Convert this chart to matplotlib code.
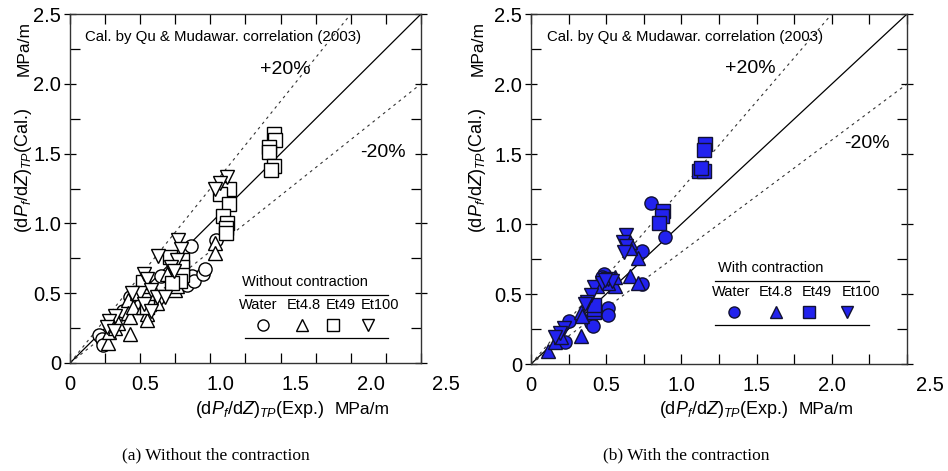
import numpy as np
import matplotlib
matplotlib.use("Agg")
import matplotlib.pyplot as plt

plt.rcParams['font.family'] = ['Liberation Sans', 'DejaVu Sans']
plt.rcParams['mathtext.fontset'] = 'custom'
plt.rcParams['mathtext.rm'] = 'Liberation Sans'
plt.rcParams['mathtext.it'] = 'Liberation Sans:italic'

# (a) without contraction
water_a_x = [0.21, 0.23, 0.235, 0.38, 0.43, 0.62, 0.57, 0.65, 0.78, 0.80, 0.83, 0.87, 0.88, 0.86, 0.95, 0.96, 1.04]
water_a_y = [0.20, 0.17, 0.13, 0.37, 0.47, 0.46, 0.52, 0.62, 0.69, 0.64, 0.56, 0.62, 0.59, 0.84, 0.64, 0.67, 0.88]
et48_a_x = [0.27, 0.28, 0.32, 0.34, 0.41, 0.41, 0.43, 0.43, 0.45, 0.48, 0.52, 0.55, 0.55, 0.56, 0.62, 0.69, 0.75, 0.76, 1.03, 1.03]
et48_a_y = [0.14, 0.22, 0.25, 0.29, 0.45, 0.36, 0.33, 0.21, 0.40, 0.50, 0.40, 0.35, 0.31, 0.42, 0.43, 0.64, 0.52, 0.55, 0.86, 0.79]
et49_a_x = [1.45, 1.46, 1.42, 1.42, 1.45, 1.43, 1.13, 1.07, 1.13, 1.09, 1.12, 1.11, 1.11, 0.71, 0.80, 0.80, 0.80, 0.78, 0.73, 0.52, 0.55, 0.55]
et49_a_y = [1.64, 1.60, 1.55, 1.51, 1.41, 1.38, 1.25, 1.21, 1.14, 1.05, 1.00, 0.97, 0.93, 0.76, 0.74, 0.69, 0.63, 0.59, 0.57, 0.58, 0.45, 0.40]
et100_a_x = [1.12, 1.07, 1.03, 0.63, 0.77, 0.79, 0.76, 0.72, 0.74, 0.53, 0.55, 0.50, 0.58, 0.62, 0.32, 0.28, 0.26, 0.31, 0.44, 0.53, 0.58, 0.68]
et100_a_y = [1.33, 1.29, 1.25, 0.77, 0.88, 0.82, 0.74, 0.69, 0.66, 0.64, 0.60, 0.50, 0.52, 0.47, 0.34, 0.30, 0.26, 0.23, 0.50, 0.42, 0.37, 0.47]

# (b) with contraction
water_b_x = [0.80, 0.89, 0.74, 0.74, 0.485, 0.51, 0.51, 0.40, 0.41, 0.25, 0.226, 0.47]
water_b_y = [1.15, 0.905, 0.81, 0.57, 0.64, 0.40, 0.35, 0.295, 0.27, 0.31, 0.155, 0.62]
et48_b_x = [0.115, 0.16, 0.33, 0.33, 0.34, 0.66, 0.71, 0.71, 0.655, 0.66, 0.56, 0.56, 0.20, 0.51, 0.44]
et48_b_y = [0.095, 0.16, 0.20, 0.37, 0.345, 0.63, 0.58, 0.755, 0.87, 0.83, 0.56, 0.62, 0.19, 0.58, 0.56]
et49_b_x = [1.157, 1.15, 1.12, 1.15, 1.13, 0.88, 0.87, 0.85, 0.42, 0.42, 0.42]
et49_b_y = [1.57, 1.53, 1.38, 1.38, 1.40, 1.09, 1.06, 1.01, 0.37, 0.39, 0.42]
et100_b_x = [0.63, 0.61, 0.63, 0.62, 0.51, 0.54, 0.42, 0.40, 0.37, 0.36, 0.22, 0.19, 0.16, 0.47, 0.49]
et100_b_y = [0.92, 0.87, 0.84, 0.80, 0.61, 0.59, 0.55, 0.49, 0.445, 0.43, 0.255, 0.22, 0.19, 0.58, 0.60]

fluids = ["Water", "Et4.8", "Et49", "Et100"]
markers = ["o", "^", "s", "v"]
x_tick_labels = ["0", "0.5", "1.0", "1.5", "2.0", "2.5"]
y_tick_labels = ["0", "0.5", "1.0", "1.5", "2.0", "2.5"]

fig = plt.figure(figsize=(9.48, 4.71), dpi=100)
ax_a = fig.add_axes([70/948, 108/471, 351/948, 349/471])
ax_b = fig.add_axes([531/948, 107/471, 376/948, 350/471])

ylab = r'(d$P_f$/d$Z$)$_{TP}$(Cal.)'
xlab = r'(d$P_f$/d$Z$)$_{TP}$(Exp.)'


def setup(ax, xlab_pos):
    ax.set_xlim(0, 2.5)
    ax.set_ylim(0, 2.5)
    xx = np.array([0, 2.5])
    ax.plot(xx, xx, color='black', lw=0.9, zorder=1)
    ax.plot(xx, xx / 0.8, color='#333333', lw=0.8, ls=(0, (2.5, 3.5)), zorder=1)
    ax.plot(xx, xx * 0.8, color='#333333', lw=0.8, ls=(0, (2.5, 3.5)), zorder=1)
    ax.set_xticks(np.arange(0, 2.51, 0.25))
    ax.set_xticklabels([])
    ax.set_yticks(np.arange(0, 2.51, 0.5))
    ax.set_yticklabels(y_tick_labels)
    ax.set_yticks(np.arange(0.25, 2.5, 0.5), minor=True)
    ax.tick_params(axis='x', direction='in', length=7, width=0.9, top=True)
    ax.tick_params(axis='y', which='major', direction='inout', length=9, width=0.9,
                   right=True, labelsize=14.5, pad=2)
    ax.tick_params(axis='y', which='minor', direction='in', length=7, width=0.9, right=True)
    for s in ax.spines.values():
        s.set_linewidth(1.0)
        s.set_color('#333333')
    for lab, fx in zip(x_tick_labels, xlab_pos):
        ax.text(fx, -0.035, lab, transform=ax.transAxes, ha='center', va='top', fontsize=14.5)
    ax.text(0.042, 0.935, "Cal. by Qu & Mudawar. correlation (2003)", transform=ax.transAxes,
            ha='left', va='center', fontsize=10.8)


setup(ax_a, [0, 0.214, 0.428, 0.642, 0.856, 1.07])
setup(ax_b, [0, 0.2, 0.4, 0.6, 0.8, 1.06])

ax_a.text(0.613, 0.84, "+20%", transform=ax_a.transAxes, ha='center', va='center', fontsize=14)
ax_a.text(0.892, 0.602, "-20%", transform=ax_a.transAxes, ha='center', va='center', fontsize=14)
ax_b.text(0.584, 0.845, "+20%", transform=ax_b.transAxes, ha='center', va='center', fontsize=14)
ax_b.text(0.893, 0.629, "-20%", transform=ax_b.transAxes, ha='center', va='center', fontsize=14)

series_a = [(water_a_x, water_a_y), (et48_a_x, et48_a_y), (et49_a_x, et49_a_y), (et100_a_x, et100_a_y)]
series_b = [(water_b_x, water_b_y), (et48_b_x, et48_b_y), (et49_b_x, et49_b_y), (et100_b_x, et100_b_y)]

for (x, y), m in zip(series_a, markers):
    ax_a.plot(x, y, ls='none', marker=m, ms=9.5, mfc='white', mec='black', mew=1.0, zorder=3)
blue = '#2222ee'
for (x, y), m in zip(series_b, markers):
    ax_b.plot(x, y, ls='none', marker=m, ms=9.5, mfc=blue, mec='#111133', mew=1.0, zorder=3)


def legend_box(ax, title, title_x, title_y, line1, line2, x0, x1, lab_y, lab_x, mk_y, mk_x, fc, ec):
    ax.text(title_x, title_y, title, transform=ax.transAxes,
            ha='center', va='center', fontsize=10.5)
    for ly in (line1, line2):
        ax.plot([x0, x1], [ly, ly], transform=ax.transAxes, color='black', lw=0.9)
    for f, lx in zip(fluids, lab_x):
        ax.text(lx, lab_y, f, transform=ax.transAxes, ha='center', va='center', fontsize=10.5)
    for m, mx in zip(markers, mk_x):
        ax.plot([mx], [mk_y], transform=ax.transAxes, ls='none', marker=m, ms=8,
                mfc=fc, mec=ec, mew=1.0)


legend_box(ax_a, "Without contraction", 0.67, 0.232, 0.195, 0.072, 0.499, 0.906,
           0.166, [0.536, 0.665, 0.772, 0.883], 0.109, [0.55, 0.66, 0.75, 0.85], 'white', 'black')
legend_box(ax_b, "With contraction", 0.637, 0.274, 0.237, 0.111, 0.489, 0.899,
           0.206, [0.532, 0.652, 0.761, 0.878], 0.149, [0.54, 0.652, 0.74, 0.84], blue, '#111133')

# axis labels
for xc in (24/948, 478/948):
    fig.text(xc, 1 - 170/471, ylab, rotation=90, ha='center', va='center', fontsize=13)
    fig.text(xc, 1 - 49/471, "MPa/m", rotation=90, ha='center', va='center', fontsize=12.5)
for xc, xm in ((260/948, 362/948), (724/948, 826/948)):
    fig.text(xc, 1 - 410/471, xlab, ha='center', va='center', fontsize=13)
    fig.text(xm, 1 - 410/471, "MPa/m", ha='center', va='center', fontsize=12.5)

fig.text(216/948, 1 - 455/471, "(a) Without the contraction", ha='center', va='center',
         fontsize=12.5, family='Liberation Serif')
fig.text(686/948, 1 - 455/471, "(b) With the contraction", ha='center', va='center',
         fontsize=12.5, family='Liberation Serif')

fig.savefig("out.png", dpi=100)
